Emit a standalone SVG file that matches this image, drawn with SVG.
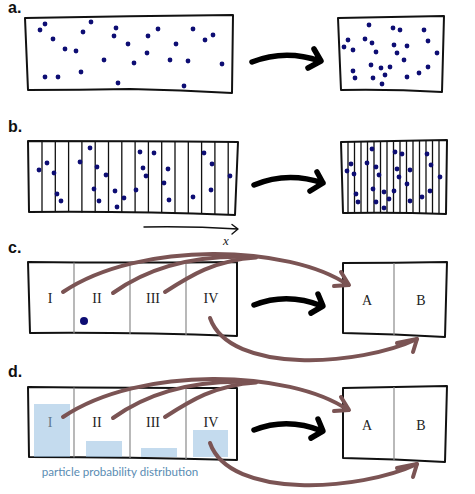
<svg xmlns="http://www.w3.org/2000/svg" width="475" height="494" viewBox="0 0 475 494">
<defs>
<style>
.lbl{font-family:"Liberation Sans",Arial,sans-serif;font-weight:bold;font-size:16px;fill:#111}
.box{fill:#fff;stroke:#111;stroke-width:2;stroke-linejoin:round}
.grid{fill:none;stroke:#111;stroke-width:1.3}
.div{stroke:#8a8a8a;stroke-width:1.2}
.d{fill:#0d0d73}
.big{fill:none;stroke:#000;stroke-width:5.5;stroke-linecap:round;stroke-linejoin:round}
.br{fill:none;stroke:#7b5454;stroke-width:4;stroke-linecap:round;stroke-linejoin:round}
.rom{font-family:"Liberation Serif","Times New Roman",serif;font-size:14px;fill:#222;text-anchor:middle}
.bar{fill:#94bee0;opacity:0.55}
</style>
</defs>

<!-- panel a -->
<g id="panel-a">
<text class="lbl" x="8" y="13">a.</text>
<g id="a-left">
<path class="box" d="M25,18 Q130,16 233,15 L232,93 Q180,90 130,89 Q80,90 28,90 Z"/>
<g class="d">
<circle cx="45" cy="24" r="2.4"/><circle cx="40" cy="30" r="2.4"/><circle cx="91" cy="22" r="2.4"/><circle cx="83" cy="32" r="2.4"/>
<circle cx="53" cy="39" r="2.4"/><circle cx="116" cy="28" r="2.4"/><circle cx="114" cy="36" r="2.4"/><circle cx="128" cy="44" r="2.4"/>
<circle cx="148" cy="36" r="2.4"/><circle cx="158" cy="29" r="2.4"/><circle cx="193" cy="29" r="2.4"/><circle cx="213" cy="35" r="2.4"/>
<circle cx="205" cy="40" r="2.4"/><circle cx="176" cy="44" r="2.4"/><circle cx="147" cy="53" r="2.4"/><circle cx="65" cy="49" r="2.4"/>
<circle cx="76" cy="51" r="2.4"/><circle cx="104" cy="60" r="2.4"/><circle cx="134" cy="63" r="2.4"/><circle cx="170" cy="60" r="2.4"/>
<circle cx="188" cy="61" r="2.4"/><circle cx="222" cy="64" r="2.4"/><circle cx="45" cy="77" r="2.4"/><circle cx="58" cy="77" r="2.4"/>
<circle cx="81" cy="72" r="2.4"/><circle cx="118" cy="83" r="2.4"/><circle cx="184" cy="86" r="2.4"/>
</g>
</g>
<g id="a-right">
<path class="box" d="M338,18 Q390,17 444,16 L442,92 Q390,89 341,90 Z"/>
<g class="d">
<circle cx="369" cy="25" r="2.4"/><circle cx="393" cy="28" r="2.4"/><circle cx="400" cy="30" r="2.4"/><circle cx="424" cy="30" r="2.4"/>
<circle cx="348" cy="40" r="2.4"/><circle cx="365" cy="39" r="2.4"/><circle cx="372" cy="43" r="2.4"/><circle cx="394" cy="45" r="2.4"/>
<circle cx="407" cy="46" r="2.4"/><circle cx="428" cy="41" r="2.4"/><circle cx="344" cy="47" r="2.4"/><circle cx="353" cy="50" r="2.4"/>
<circle cx="376" cy="52" r="2.4"/><circle cx="397" cy="53" r="2.4"/><circle cx="437" cy="53" r="2.4"/><circle cx="404" cy="60" r="2.4"/>
<circle cx="371" cy="65" r="2.4"/><circle cx="381" cy="68" r="2.4"/><circle cx="390" cy="67" r="2.4"/><circle cx="428" cy="67" r="2.4"/>
<circle cx="353" cy="71" r="2.4"/><circle cx="385" cy="75" r="2.4"/><circle cx="419" cy="73" r="2.4"/><circle cx="355" cy="78" r="2.4"/>
<circle cx="373" cy="78" r="2.4"/><circle cx="407" cy="77" r="2.4"/><circle cx="382" cy="84" r="2.4"/>
</g>
</g>
</g>

<!-- panel b -->
<g id="panel-b">
<text class="lbl" x="8" y="132">b.</text>
<g id="b-left">
<path class="box" d="M28,141 Q130,141 238,142 L235,215 Q130,211 29,212 Z"/>
<path class="grid" d="M42,142V212 M55.3,142V212 M68.6,142V212 M81.9,142V212.5 M95.2,142V212.5 M108.5,142V212.5 M121.8,142V213 M135.1,142V213 M148.4,142V213 M161.7,142V213 M175,142V213.5 M188.3,142V213.5 M201.6,142V214 M214.9,142V214 M228.2,142V214.5"/>
<g class="d">
<circle cx="39" cy="170" r="2.4"/><circle cx="47" cy="163" r="2.4"/><circle cx="54" cy="173" r="2.4"/><circle cx="57" cy="194" r="2.4"/>
<circle cx="61" cy="201" r="2.4"/><circle cx="80" cy="162" r="2.4"/><circle cx="90" cy="148" r="2.4"/><circle cx="97" cy="167" r="2.4"/>
<circle cx="106" cy="175" r="2.4"/><circle cx="94" cy="189" r="2.4"/><circle cx="99" cy="201" r="2.4"/><circle cx="115" cy="191" r="2.4"/>
<circle cx="124" cy="198" r="2.4"/><circle cx="117" cy="207" r="2.4"/><circle cx="140" cy="152" r="2.4"/><circle cx="154" cy="153" r="2.4"/>
<circle cx="143" cy="168" r="2.4"/><circle cx="146" cy="176" r="2.4"/><circle cx="136" cy="190" r="2.4"/><circle cx="168" cy="169" r="2.4"/>
<circle cx="164" cy="183" r="2.4"/><circle cx="169" cy="200" r="2.4"/><circle cx="193" cy="197" r="2.4"/><circle cx="204" cy="153" r="2.4"/>
<circle cx="212" cy="164" r="2.4"/><circle cx="211" cy="190" r="2.4"/><circle cx="230" cy="176" r="2.4"/>
</g>
</g>
<g id="x-axis">
<path d="M144,227 Q190,226 238,229 M232,224.5 L238,229 L232,234" fill="none" stroke="#111" stroke-width="1.4" stroke-linecap="round" stroke-linejoin="round"/>
<text x="226" y="245" font-family="'Liberation Serif','Times New Roman',serif" font-style="italic" font-size="13" fill="#222" text-anchor="middle">x</text>
</g>
<g id="b-right">
<path class="box" d="M341,142 Q395,141 447,140 L446,214 Q395,212 343,213 Z"/>
<path class="grid" d="M348,141.5V213 M354.5,141.5V213 M361,141.5V213 M367.5,141.5V213 M374,141.5V213 M380.5,141V213 M387,141V213 M393.5,141V213 M400,141V213 M406.5,141V213 M413,140.5V213 M419.5,140.5V213 M426,140.5V213.5 M432.5,140.5V213.5 M439,140.5V213.5"/>
<g class="d">
<circle cx="372" cy="149" r="2.4"/><circle cx="351" cy="164" r="2.4"/><circle cx="347" cy="171" r="2.4"/><circle cx="354" cy="174" r="2.4"/>
<circle cx="367" cy="163" r="2.4"/><circle cx="376" cy="167" r="2.4"/><circle cx="379" cy="175" r="2.4"/><circle cx="395" cy="152" r="2.4"/>
<circle cx="402" cy="154" r="2.4"/><circle cx="397" cy="169" r="2.4"/><circle cx="410" cy="170" r="2.4"/><circle cx="399" cy="177" r="2.4"/>
<circle cx="407" cy="184" r="2.4"/><circle cx="427" cy="154" r="2.4"/><circle cx="431" cy="165" r="2.4"/><circle cx="440" cy="177" r="2.4"/>
<circle cx="373" cy="189" r="2.4"/><circle cx="384" cy="192" r="2.4"/><circle cx="394" cy="191" r="2.4"/><circle cx="389" cy="199" r="2.4"/>
<circle cx="356" cy="194" r="2.4"/><circle cx="358" cy="202" r="2.4"/><circle cx="376" cy="202" r="2.4"/><circle cx="384" cy="208" r="2.4"/>
<circle cx="410" cy="201" r="2.4"/><circle cx="422" cy="197" r="2.4"/><circle cx="430" cy="191" r="2.4"/>
</g>
</g>
</g>

<!-- panel c -->
<g id="panel-c">
<text class="lbl" x="8" y="253">c.</text>
<g id="c-left">
<path class="box" d="M28,262 Q130,263 237,262 L237,336 Q130,332 30,333 Z"/>
<path class="div" d="M74,262.5V333.5 M130,262.5V334 M186,262.5V335"/>
<text class="rom" x="50" y="303">I</text>
<text class="rom" x="97" y="303">II</text>
<text class="rom" x="153" y="303">III</text>
<text class="rom" x="211" y="303">IV</text>
<circle cx="84" cy="321" r="4" fill="#0d0d73"/>
</g>
<g id="c-right">
<path class="box" d="M343,263 Q395,263 447,262 L445,337 Q395,334 343,333 Z"/>
<path class="div" d="M394,263V335"/>
<text class="rom" x="367" y="305">A</text>
<text class="rom" x="421" y="305">B</text>
</g>
</g>

<!-- panel d -->
<g id="panel-d">
<text class="lbl" x="8" y="377">d.</text>
<g id="d-left">
<path class="box" d="M28,387 Q130,388 237,388 L237,460 Q130,457 29,457 Z"/>
<path class="div" d="M74,387.5V457.5 M130,387.5V458 M186,388V459"/>
<text class="rom" x="50" y="427">I</text>
<text class="rom" x="97" y="427">II</text>
<text class="rom" x="153" y="427">III</text>
<text class="rom" x="211" y="427">IV</text>
<rect class="bar" x="34" y="404" width="36" height="53"/>
<rect class="bar" x="86" y="441" width="36" height="16"/>
<rect class="bar" x="141" y="448" width="36" height="9"/>
<rect class="bar" x="193" y="430" width="35" height="27"/>
<text x="120" y="476" font-family="Lato,'Open Sans',sans-serif" font-size="11.6" fill="#5a8cb3" text-anchor="middle">particle probability distribution</text>
</g>
<g id="d-right">
<path class="box" d="M343,388 Q395,387 447,386 L445,462 Q395,459 343,458 Z"/>
<path class="div" d="M394,387V460"/>
<text class="rom" x="367" y="430">A</text>
<text class="rom" x="421" y="430">B</text>
</g>
</g>

<!-- connectors -->
<g id="connectors">
<path class="big" d="M252,62 Q285,49 320,61 M314,49 L321,61 L308,68"/>
<path class="big" d="M254,185 Q287,171 323,183 M317,172 L323,183 L310,191"/>
<path class="big" d="M254,305 Q287,292 322,306 M318,294 L323,306 L311,313"/>
<path class="big" d="M254,430 Q287,417 322,431 M318,419 L323,431 L311,438"/>
<g id="c-brown">
<path class="br" d="M63,292 C140,240 290,245 348,285"/>
<path class="br" d="M113,293 C148,268 195,255 250,257"/>
<path class="br" d="M165,292 C190,276 215,260 256,257.5"/>
<path class="br" d="M341,272 L349,285 L334,286"/>
<path class="br" d="M210,318 C230,375 360,366 417,339"/>
<path class="br" d="M397,343 L417,339 L413,352"/>
</g>
<g id="d-brown">
<path class="br" d="M63,417 C140,365 290,370 348,410"/>
<path class="br" d="M113,418 C148,393 195,380 250,382"/>
<path class="br" d="M165,417 C190,401 215,385 256,382.5"/>
<path class="br" d="M341,397 L349,410 L334,411"/>
<path class="br" d="M210,443 C230,500 360,491 417,464"/>
<path class="br" d="M397,468 L417,464 L413,477"/>
</g>
</g>
</svg>
